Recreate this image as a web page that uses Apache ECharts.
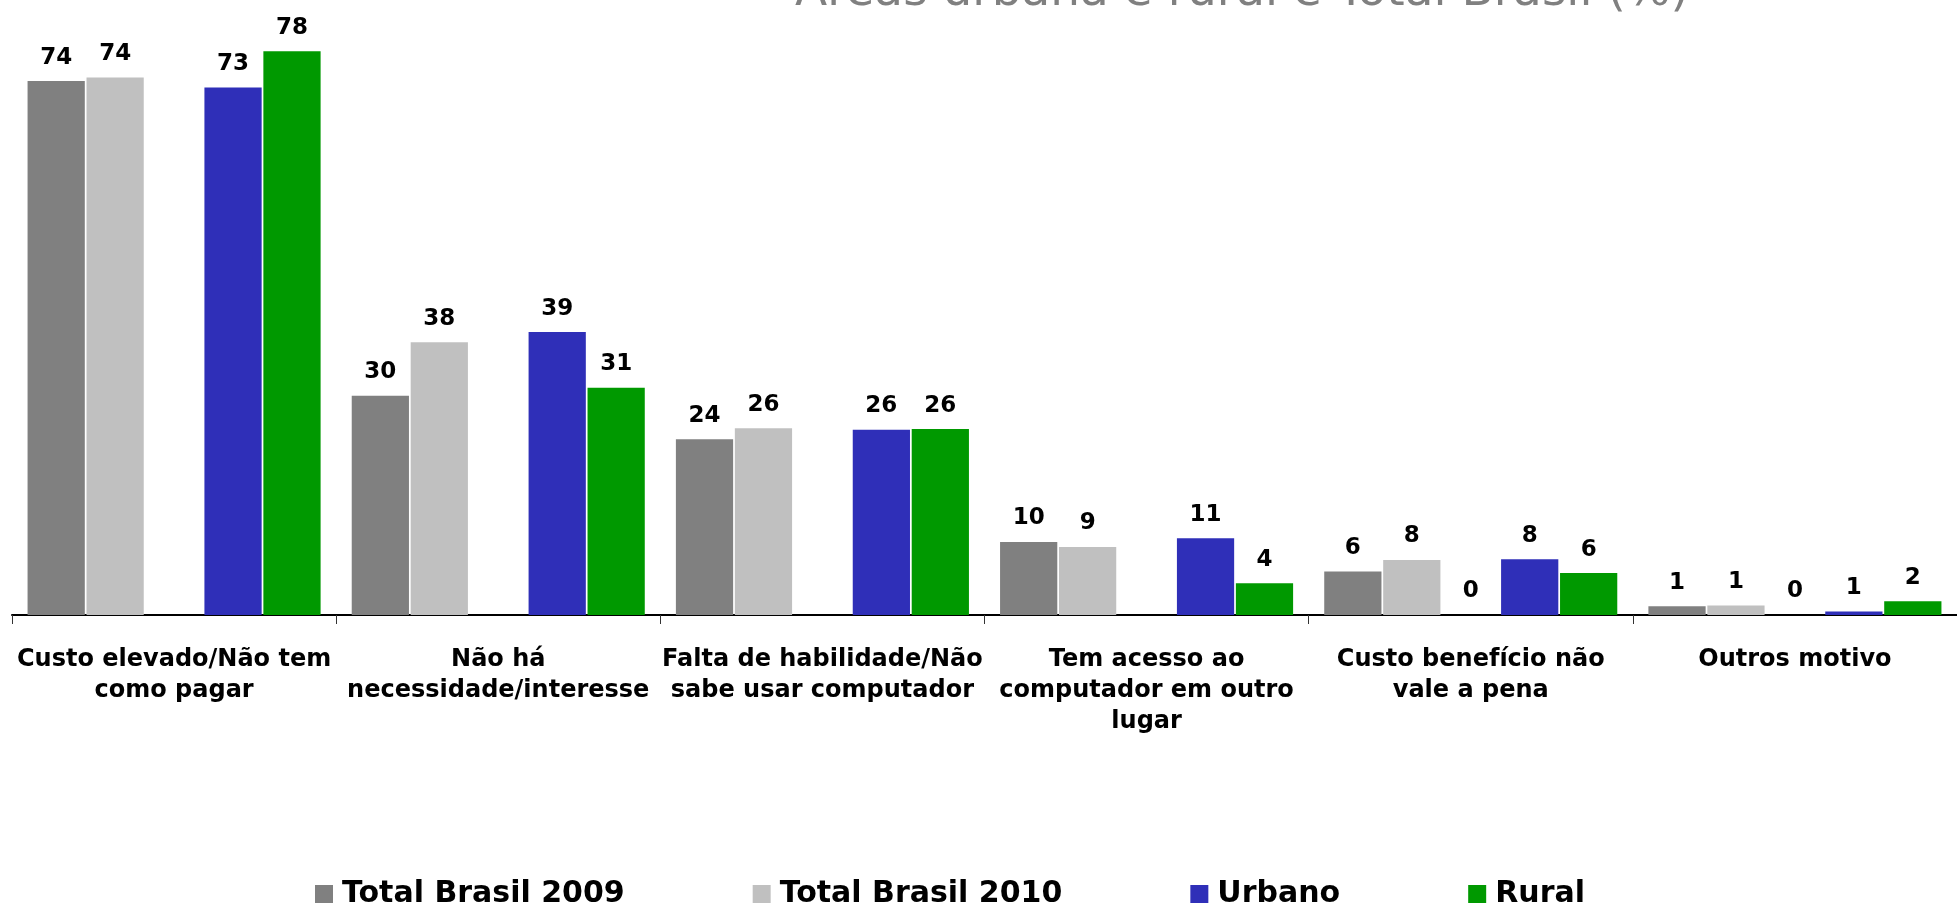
<!DOCTYPE html>
<html>
<head>
<meta charset="utf-8">
<script src="https://cdn.jsdelivr.net/npm/echarts@6/dist/echarts.min.js"></script>
<style>
    html, body { margin: 0; padding: 0; background: #fff; }
    #chart { width: 1957px; height: 905px; }
</style>
</head>
<body>
<div id="chart"></div>
<script>
    // categorias (motivos)
    const categories = [
        'Custo elevado/Não tem\ncomo pagar',
        'Não há\nnecessidade/interesse',
        'Falta de habilidade/Não\nsabe usar computador',
        'Tem acesso ao\ncomputador em outro\nlugar',
        'Custo benefício não\nvale a pena',
        'Outros motivo'
    ];
    const seriesNames = ['Total Brasil 2009', 'Total Brasil 2010', 'Urbano', 'Rural'];
    const total2009 = [73.8, 30.3, 24.3, 10.1, 6.0, 1.2];
    const total2010 = [74.3, 37.7, 25.8, 9.4, 7.6, 1.3];
    const urbano = [72.9, 39.1, 25.6, 10.6, 7.7, 0.5];
    const rural = [77.9, 31.4, 25.7, 4.4, 5.8, 1.9];
    // coluna vazia entre Brasil e Urbano/Rural (so mostra "0" nos ultimos)
    const vazio = [null, null, null, null, 0, 0];

    const font = 'DejaVu Sans';

    const barLabel = {
        show: true,
        position: 'top',
        distance: 12,
        fontFamily: font,
        fontWeight: 'bold',
        fontSize: 23,
        color: '#000',
        formatter: p => Math.round(p.value)
    };

    function bar(name, data, color) {
        return {
            name: name,
            type: 'bar',
            data: data,
            barGap: '3%',
            barCategoryGap: '9.6%',
            itemStyle: { color: color },
            label: barLabel
        };
    }

    const option = {
        animation: false,
        title: {
            text: 'Áreas urbana e rural e Total Brasil (%)',
            left: 790,
            top: -36,
            textStyle: {
                fontFamily: font,
                fontWeight: 'normal',
                fontSize: 47,
                color: '#808080'
            }
        },
        legend: {
            data: seriesNames,
            left: 310,
            top: 874,
            itemGap: 128,
            itemWidth: 18,
            itemHeight: 18,
            icon: 'rect',
            textStyle: {
                fontFamily: font,
                fontWeight: 'bold',
                fontSize: 30,
                color: '#000',
                padding: [0, 0, 0, 4]
            }
        },
        grid: {
            left: 12,
            right: -10,
            top: 0,
            bottom: 290
        },
        xAxis: {
            type: 'category',
            data: categories,
            axisLine: { lineStyle: { color: '#000', width: 2 } },
            axisTick: { show: true, length: 9, lineStyle: { color: '#333', width: 1 } },
            axisLabel: {
                interval: 0,
                margin: 29,
                fontFamily: font,
                fontWeight: 'bold',
                fontSize: 24,
                lineHeight: 31,
                color: '#000'
            }
        },
        yAxis: {
            type: 'value',
            show: false,
            min: 0,
            max: 85
        },
        series: [
            bar(seriesNames[0], total2009, '#808080'),
            bar(seriesNames[1], total2010, '#c0c0c0'),
            bar('', vazio, 'rgba(0,0,0,0)'),
            bar(seriesNames[2], urbano, '#2f2fb8'),
            bar(seriesNames[3], rural, '#009900')
        ]
    };

    echarts.init(document.getElementById('chart')).setOption(option);
</script>
</body>
</html>
